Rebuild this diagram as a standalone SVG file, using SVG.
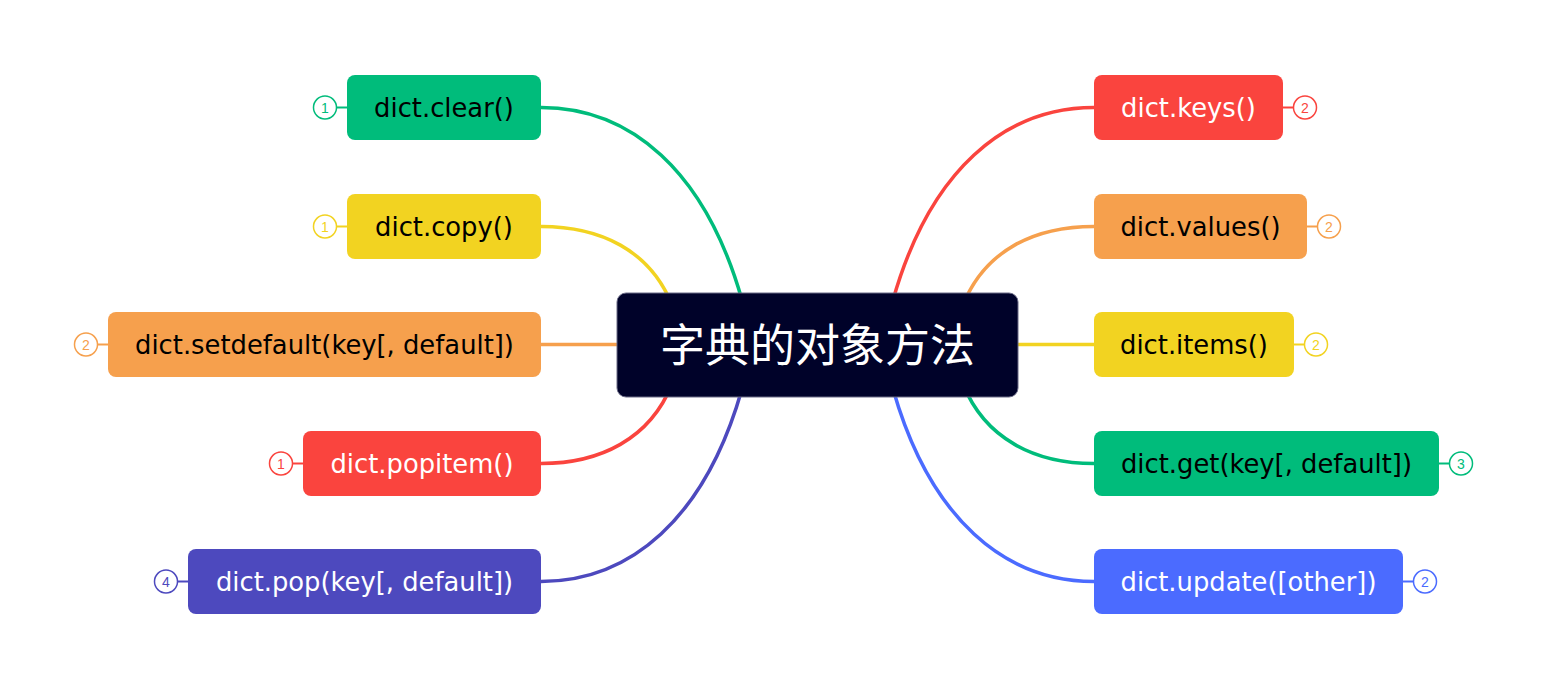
<svg xmlns="http://www.w3.org/2000/svg" width="1548" height="690" viewBox="0 0 1548 690">
<style>
.lbl{font-family:"DejaVu Sans","Noto Sans",sans-serif;font-size:25.8px;text-anchor:middle}
.dk{fill:#000}
.wt{fill:#fff}
.num{font-family:"Liberation Sans","Noto Sans",sans-serif;font-size:14px;text-anchor:middle}
.edge{fill:none;stroke-width:3.5;stroke-linecap:round}
.tie{stroke-width:2}
.badge{fill:#fff;stroke-width:1.5}
</style>
<rect width="1548" height="690" fill="#fff"/>
<g id="connectors">
<path class="edge" stroke="#00BC7B" d="M541 107.5 C630 107.5 705 170 742 300 L750 330"/>
<path class="edge" stroke="#F2D321" d="M541 226.5 C600 226.5 650 250 672 305 L680 330"/>
<path class="edge" stroke="#F6A04D" d="M541 344.5 L640 344.5"/>
<path class="edge" stroke="#FA443E" d="M541 463.5 C600 463.5 650 439 672 384 L680 360"/>
<path class="edge" stroke="#4D49BE" d="M541 581.5 C630 581.5 705 519 742 389 L750 360"/>
<path class="edge" stroke="#FA443E" d="M1094 107.5 C1005 107.5 930 170 893 300 L885 330"/>
<path class="edge" stroke="#F6A04D" d="M1094 226.5 C1035 226.5 985 250 963 305 L955 330"/>
<path class="edge" stroke="#F2D321" d="M1094 344.5 L995 344.5"/>
<path class="edge" stroke="#00BC7B" d="M1094 463.5 C1035 463.5 985 439 963 384 L955 360"/>
<path class="edge" stroke="#4B6BFF" d="M1094 581.5 C1005 581.5 930 519 893 389 L885 360"/>
</g>
<g id="center">
<rect x="617" y="293" width="401" height="104" rx="9" fill="#000229" stroke="#6a6a86" stroke-width="1"/>
<text x="817.5" y="362" font-family="'Noto Sans CJK SC','Noto Sans',sans-serif" font-size="45" fill="#fff" text-anchor="middle">字典的对象方法</text>
</g>
<g id="n-clear">
<line class="tie" x1="336.5" y1="107.5" x2="347" y2="107.5" stroke="#00BC7B"/>
<circle class="badge" cx="325" cy="107.5" r="11.5" stroke="#00BC7B"/>
<text class="num" x="325" y="112.5" fill="#00BC7B">1</text>
<rect x="347" y="75" width="194" height="65" rx="8" fill="#00BC7B"/>
<text class="lbl dk" x="444" y="116.5">dict.clear()</text>
</g>
<g id="n-copy">
<line class="tie" x1="336.5" y1="226.5" x2="347" y2="226.5" stroke="#F2D321"/>
<circle class="badge" cx="325" cy="226.5" r="11.5" stroke="#F2D321"/>
<text class="num" x="325" y="231.5" fill="#F2D321">1</text>
<rect x="347" y="194" width="194" height="65" rx="8" fill="#F2D321"/>
<text class="lbl dk" x="444" y="235.5">dict.copy()</text>
</g>
<g id="n-setdefault">
<line class="tie" x1="97.5" y1="344.5" x2="108" y2="344.5" stroke="#F6A04D"/>
<circle class="badge" cx="86" cy="344.5" r="11.5" stroke="#F6A04D"/>
<text class="num" x="86" y="349.5" fill="#F6A04D">2</text>
<rect x="108" y="312" width="433" height="65" rx="8" fill="#F6A04D"/>
<text class="lbl dk" x="324.5" y="353.5">dict.setdefault(key[, default])</text>
</g>
<g id="n-popitem">
<line class="tie" x1="292.5" y1="463.5" x2="303" y2="463.5" stroke="#FA443E"/>
<circle class="badge" cx="281" cy="463.5" r="11.5" stroke="#FA443E"/>
<text class="num" x="281" y="468.5" fill="#FA443E">1</text>
<rect x="303" y="431" width="238" height="65" rx="8" fill="#FA443E"/>
<text class="lbl wt" x="422" y="472.5">dict.popitem()</text>
</g>
<g id="n-pop">
<line class="tie" x1="177.5" y1="581.5" x2="188" y2="581.5" stroke="#4D49BE"/>
<circle class="badge" cx="166" cy="581.5" r="11.5" stroke="#4D49BE"/>
<text class="num" x="166" y="586.5" fill="#4D49BE">4</text>
<rect x="188" y="549" width="353" height="65" rx="8" fill="#4D49BE"/>
<text class="lbl wt" x="364.5" y="590.5">dict.pop(key[, default])</text>
</g>
<g id="n-keys">
<line class="tie" x1="1283" y1="107.5" x2="1293.5" y2="107.5" stroke="#FA443E"/>
<circle class="badge" cx="1305" cy="107.5" r="11.5" stroke="#FA443E"/>
<text class="num" x="1305" y="112.5" fill="#FA443E">2</text>
<rect x="1094" y="75" width="189" height="65" rx="8" fill="#FA443E"/>
<text class="lbl wt" x="1188.5" y="116.5">dict.keys()</text>
</g>
<g id="n-values">
<line class="tie" x1="1307" y1="226.5" x2="1317.5" y2="226.5" stroke="#F6A04D"/>
<circle class="badge" cx="1329" cy="226.5" r="11.5" stroke="#F6A04D"/>
<text class="num" x="1329" y="231.5" fill="#F6A04D">2</text>
<rect x="1094" y="194" width="213" height="65" rx="8" fill="#F6A04D"/>
<text class="lbl dk" x="1200.5" y="235.5">dict.values()</text>
</g>
<g id="n-items">
<line class="tie" x1="1294" y1="344.5" x2="1304.5" y2="344.5" stroke="#F2D321"/>
<circle class="badge" cx="1316" cy="344.5" r="11.5" stroke="#F2D321"/>
<text class="num" x="1316" y="349.5" fill="#F2D321">2</text>
<rect x="1094" y="312" width="200" height="65" rx="8" fill="#F2D321"/>
<text class="lbl dk" x="1194" y="353.5">dict.items()</text>
</g>
<g id="n-get">
<line class="tie" x1="1439" y1="463.5" x2="1449.5" y2="463.5" stroke="#00BC7B"/>
<circle class="badge" cx="1461" cy="463.5" r="11.5" stroke="#00BC7B"/>
<text class="num" x="1461" y="468.5" fill="#00BC7B">3</text>
<rect x="1094" y="431" width="345" height="65" rx="8" fill="#00BC7B"/>
<text class="lbl dk" x="1266.5" y="472.5">dict.get(key[, default])</text>
</g>
<g id="n-update">
<line class="tie" x1="1403" y1="581.5" x2="1413.5" y2="581.5" stroke="#4B6BFF"/>
<circle class="badge" cx="1425" cy="581.5" r="11.5" stroke="#4B6BFF"/>
<text class="num" x="1425" y="586.5" fill="#4B6BFF">2</text>
<rect x="1094" y="549" width="309" height="65" rx="8" fill="#4B6BFF"/>
<text class="lbl wt" x="1248.5" y="590.5">dict.update([other])</text>
</g>
</svg>
